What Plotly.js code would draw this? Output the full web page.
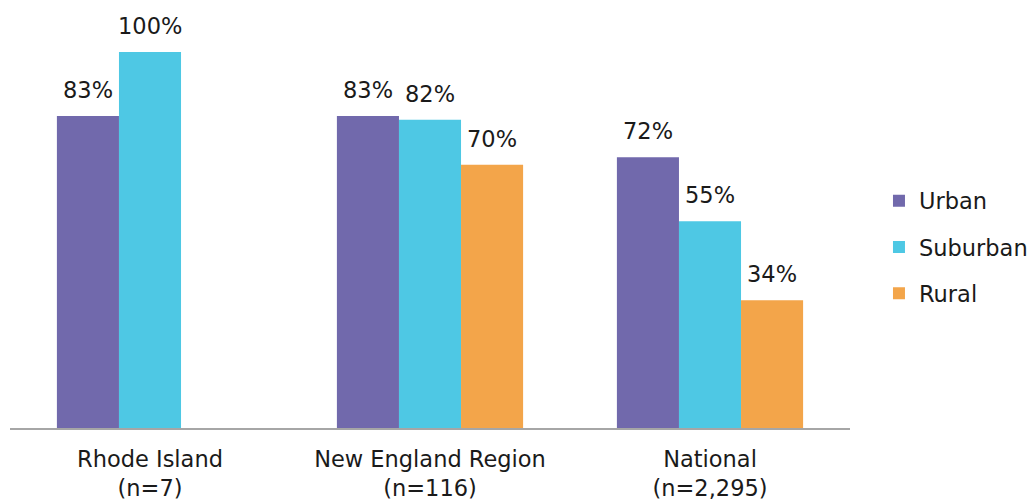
<!DOCTYPE html>
<html>
<head>
<meta charset="utf-8">
<script src="https://cdn.plot.ly/plotly-3.0.1.min.js"></script>
<style>html,body{margin:0;padding:0;background:#fff;}</style>
</head>
<body>
<div id="chart" style="width:1032px;height:502px;"></div>
<script>
const categories = ["Rhode Island<br>(n=7)", "New England Region<br>(n=116)", "National<br>(n=2,295)"];
const urban = [83, 83, 72];
const suburban = [100, 82, 55];
const rural = [null, 70, 34];
const seriesNames = ["Urban", "Suburban", "Rural"];
const colors = ["#7169AC", "#4EC8E4", "#F3A54A"];

const FONT = "'DejaVu Sans', sans-serif";
const W = 1032, H = 502;
const margin = {l: 10, r: 182, t: 10, b: 74, autoexpand: false};
const bargap = 0.335;

const series = [urban, suburban, rural];
const traces = series.map((vals, i) => ({
  type: "bar",
  x: categories,
  y: vals,
  name: seriesNames[i],
  legendgroup: "g" + i,
  marker: {color: colors[i]},
  hoverinfo: "none"
}));

// value labels placed via the axes, shifted by the bar slot width in the group
const plotW = W - margin.l - margin.r;
const slotPx = plotW / categories.length * (1 - bargap) / series.length;
const annotations = [];
series.forEach((vals, i) => {
  vals.forEach((v, j) => {
    if (v == null) return;
    annotations.push({
      x: categories[j], y: v, xref: "x", yref: "y",
      text: v + "%", showarrow: false,
      xshift: (i - (series.length - 1) / 2) * slotPx,
      yshift: 26, yanchor: "middle", xanchor: "center",
      font: {family: FONT, size: 22.5, color: "#1a1a1a"}
    });
  });
});

const layout = {
  width: W, height: H,
  margin: margin,
  paper_bgcolor: "#fff", plot_bgcolor: "#fff",
  barmode: "group",
  bargap: bargap,
  bargroupgap: 0,
  font: {family: FONT, size: 22.5, color: "#1a1a1a"},
  xaxis: {
    showline: true, linecolor: "#A6A6A6", linewidth: 2,
    ticks: "", tickfont: {family: FONT, size: 22.5, color: "#1a1a1a"},
    ticklabelstandoff: 10,
    fixedrange: true
  },
  yaxis: {
    range: [0, 111.17], visible: false, showgrid: false, zeroline: false, fixedrange: true
  },
  annotations: annotations,
  showlegend: true,
  legend: {
    x: 1.0345, xanchor: "left", y: 0.433, yanchor: "middle",
    font: {family: FONT, size: 22.5, color: "#1a1a1a"},
    tracegroupgap: 14,
    traceorder: "grouped"
  }
};

Plotly.newPlot("chart", traces, layout, {displayModeBar: false, staticPlot: true});
</script>
</body>
</html>
